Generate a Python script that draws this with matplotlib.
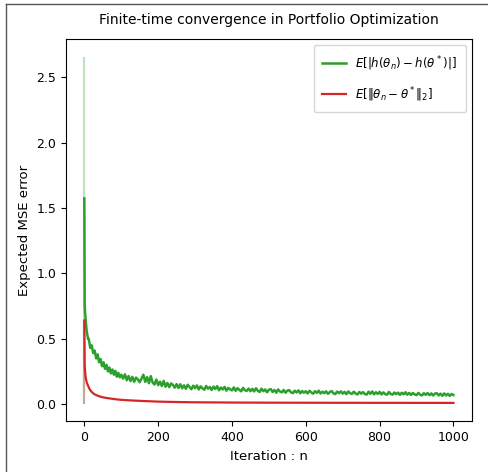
import matplotlib
matplotlib.use("Agg")
import matplotlib.pyplot as plt
from matplotlib.lines import Line2D

plt.rcParams["font.family"] = ["DejaVu Sans"]

# --- Daten ---
# Iterationen fuer die gruene Kurve: 0..10, 12..100 (Schritt 4), 105..1000 (Schritt 5)
n_gruen = list(range(0, 11)) + list(range(12, 101, 4)) + list(range(105, 1001, 5))
fehler_h = [
    1.575, 0.76, 0.70, 0.66, 0.63, 0.60, 0.57, 0.55, 0.53, 0.52, 0.50,
    0.50, 0.43, 0.45, 0.39, 0.41, 0.35, 0.38, 0.32, 0.345, 0.29, 0.32, 0.27,
    0.30, 0.25, 0.28, 0.235, 0.265, 0.225, 0.255, 0.21, 0.24, 0.205, 0.225,
    0.195, 0.228, 0.183, 0.215, 0.176, 0.209, 0.171, 0.203, 0.189, 0.168,
    0.196, 0.225, 0.170, 0.207, 0.160, 0.214, 0.165, 0.150, 0.188, 0.145,
    0.172, 0.138, 0.178, 0.133, 0.162, 0.130, 0.158, 0.147, 0.126, 0.153,
    0.124, 0.152, 0.121, 0.144, 0.117, 0.148, 0.131, 0.114, 0.141, 0.122,
    0.143, 0.112, 0.136, 0.121, 0.110, 0.139, 0.118, 0.131, 0.108, 0.134,
    0.116, 0.137, 0.106, 0.127, 0.112, 0.132, 0.103, 0.124, 0.113, 0.105,
    0.128, 0.102, 0.122, 0.109, 0.098, 0.124, 0.106, 0.101, 0.119, 0.099,
    0.117, 0.097, 0.121, 0.102, 0.093, 0.118, 0.099, 0.112, 0.091, 0.110,
    0.115, 0.093, 0.108, 0.088, 0.112, 0.097, 0.090, 0.108, 0.087, 0.103,
    0.107, 0.090, 0.084, 0.103, 0.089, 0.105, 0.083, 0.100, 0.087, 0.099,
    0.082, 0.102, 0.090, 0.080, 0.099, 0.086, 0.103, 0.081, 0.095, 0.084,
    0.098, 0.079, 0.092, 0.100, 0.082, 0.077, 0.096, 0.084, 0.098, 0.080,
    0.094, 0.076, 0.097, 0.083, 0.078, 0.095, 0.081, 0.074, 0.093, 0.080,
    0.092, 0.077, 0.073, 0.095, 0.079, 0.097, 0.075, 0.091, 0.078, 0.094,
    0.074, 0.090, 0.077, 0.072, 0.093, 0.078, 0.073, 0.089, 0.076, 0.088,
    0.071, 0.087, 0.075, 0.091, 0.072, 0.086, 0.070, 0.085, 0.074, 0.069,
    0.086, 0.072, 0.067, 0.084, 0.071, 0.085, 0.068, 0.082, 0.066, 0.081,
    0.083, 0.067, 0.080, 0.064, 0.082, 0.066, 0.079, 0.063, 0.077, 0.070,
]

n_rot = [0, 1, 2, 3, 4, 5, 6, 8, 10, 13, 16, 20, 25, 30, 40, 50, 60, 70, 85,
         100, 120, 150, 200, 250, 300, 400, 500, 600, 700, 800, 900, 1000]
fehler_theta = [0.64, 0.30, 0.25, 0.22, 0.20, 0.185, 0.172, 0.155, 0.142, 0.122,
                0.107, 0.093, 0.08, 0.072, 0.06, 0.052, 0.047, 0.043, 0.037,
                0.033, 0.029, 0.025, 0.019, 0.016, 0.014, 0.012, 0.011,
                0.0105, 0.010, 0.0098, 0.0095, 0.0093]

# Streuband beim Start (n = 0)
band_h = (0.0, 2.66)
band_theta = (0.0, 0.64)

fig, ax = plt.subplots(figsize=(4.88, 4.72), dpi=100)
fig.subplots_adjust(left=0.135, right=0.967, bottom=0.107, top=0.917)

ax.vlines(n_gruen[0], band_h[0], band_h[1], color="tab:green", alpha=0.3, lw=1.6)
ax.vlines(n_rot[0], band_theta[0], band_theta[1], color="tab:red", alpha=0.3, lw=1.6)
ax.plot(n_gruen, fehler_h, color="tab:green", lw=1.8,
        label=r"$E[|h(\theta_n) - h(\theta^*)|]$")
ax.plot(n_rot, fehler_theta, color="tab:red", lw=1.6,
        label=r"$E[\|\theta_n - \theta^*\|_2]$")

ax.set_title("Finite-time convergence in Portfolio Optimization", fontsize=10, pad=11)
ax.set_xlabel("Iteration : n", fontsize=9.5)
ax.set_ylabel("Expected MSE error", fontsize=9.5)
ax.tick_params(labelsize=9)
ax.legend(loc="upper right", fontsize=8.5, labelspacing=1.05,
          borderpad=0.75, handlelength=2.0)

# Rahmen des Screenshots (oben und links)
fig.add_artist(Line2D([6 / 488, 6 / 488], [0, 1 - 3.5 / 472],
                      transform=fig.transFigure, color="#555555", lw=1))
fig.add_artist(Line2D([6 / 488, 1], [1 - 3.5 / 472, 1 - 3.5 / 472],
                      transform=fig.transFigure, color="#555555", lw=1))

plt.savefig("out.png", dpi=100)
plt.close(fig)
